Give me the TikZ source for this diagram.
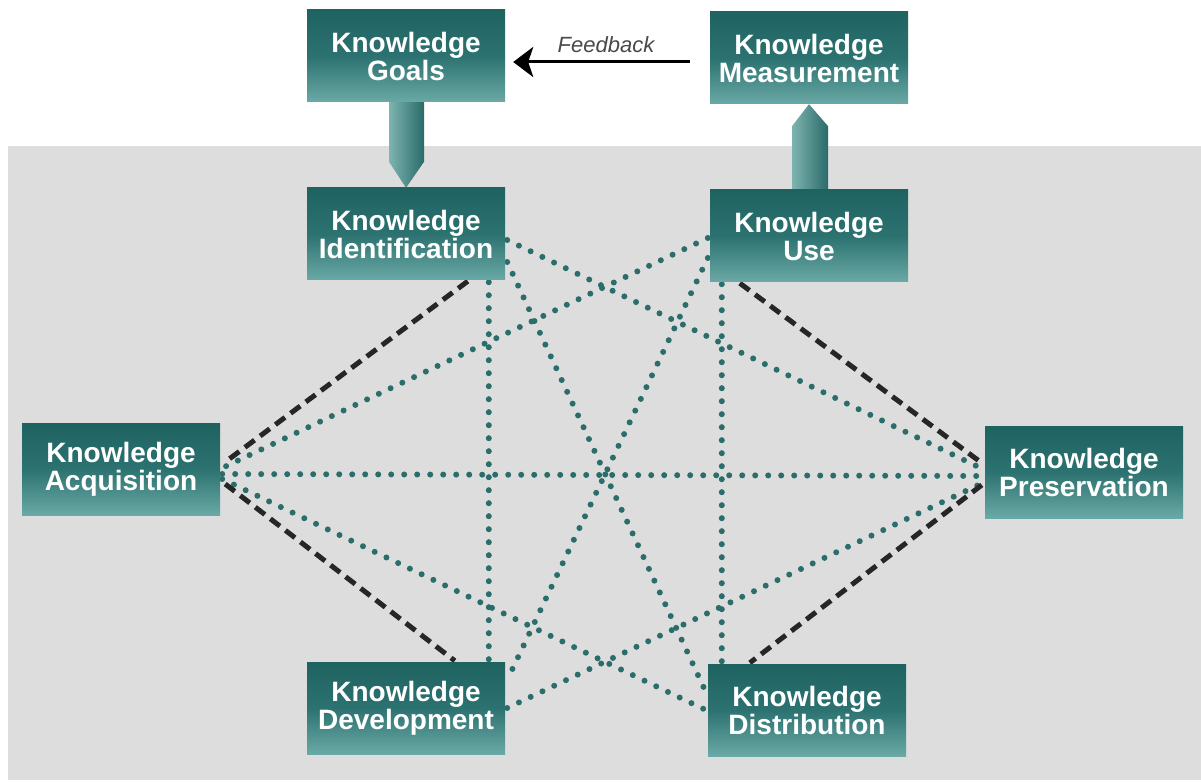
\documentclass[tikz,border=0pt]{standalone}
\usepackage{fontspec}
\setmainfont{Liberation Sans}
\usetikzlibrary{calc,arrows.meta}
\definecolor{tealdark}{HTML}{1F6361}
\definecolor{tealmid}{HTML}{2C7270}
\definecolor{teallight}{HTML}{6AA9A5}
\definecolor{dotteal}{HTML}{2A6D6A}
\definecolor{bggray}{HTML}{DEDDDE}
\definecolor{dashblack}{HTML}{262626}
\definecolor{shaftlight}{HTML}{7DB4B0}
\definecolor{shaftdark}{HTML}{2A6B69}
\definecolor{fbgray}{HTML}{4A4A4A}
\pgfdeclarelayer{back}
\pgfdeclarelayer{mid}
\pgfsetlayers{back,mid,main}
\tikzset{
  kbox/.style={rectangle, minimum width=198pt, minimum height=92pt, inner sep=0pt,
    top color=tealdark, bottom color=teallight, middle color=tealmid,
    text=white, align=center, font=\bfseries\fontsize{28}{28}\selectfont},
  dotline/.style={dotteal, line width=6pt, line cap=round, dash pattern=on 0pt off 13pt},
  dashline/.style={dashblack, line width=5pt, dash pattern=on 12pt off 7pt},
  shaft/.style={left color=shaftlight, right color=shaftdark},
  fbarrow/.style={black, line width=3pt, -{Stealth[length=20pt,width=30pt,inset=5pt]}},
  fblabel/.style={font=\itshape\fontsize{22}{22}\selectfont, text=fbgray}
}
\begin{document}
\begin{tikzpicture}[x=1pt,y=-1pt]
\useasboundingbox (0,0) rectangle (1201,783);
\begin{pgfonlayer}{back}
  \fill[white] (0,0) rectangle (1201,783);
  \fill[bggray] (8,146) rectangle (1201,780);
\end{pgfonlayer}

\node[kbox] (goals) at (406,56) {Knowledge\\Goals};
\node[kbox] (meas)  at (809,58) {Knowledge\\Measurement};
\node[kbox] (ident) at (406,234) {Knowledge\\Identification};
\node[kbox] (use)   at (809,236) {Knowledge\\Use};
\node[kbox] (acq)   at (121,469) {Knowledge\\Acquisition};
\node[kbox] (pres)  at (1084,472) {Knowledge\\Preservation};
\node[kbox] (dev)   at (406,708) {Knowledge\\Development};
\node[kbox] (dist)  at (807,710) {Knowledge\\Distribution};

\node[fblabel] (fb) at (606,45) {Feedback};
\draw[fbarrow] ($(meas.west)+(-20,4)$) -- ($(goals.east)+(8,6)$);

\begin{pgfonlayer}{mid}
  % thick shaded arrows
  \shade[shaft] ($(goals.south)+(-17,0)$) -- ($(goals.south)+(18,0)$) -- ($(ident.north)+(18,-26)$) -- (ident.north) -- ($(ident.north)+(-17,-26)$) -- cycle;
  \shade[shaft] ($(use.north)+(-17,0)$) -- ($(use.north)+(19,0)$) -- ($(meas.south)+(19,22)$) -- (meas.south) -- ($(meas.south)+(-17,22)$) -- cycle;

  % dotted teal connectors
  \draw[dotline] ($(ident.east)+(2,6)$) -- ($(pres.west)+(0,-2)$);
  \draw[dotline] ($(use.west)+(-2,2)$) -- ($(acq.east)+(2,-1)$);
  \draw[dotline] ($(acq.east)+(2,5)$) -- ($(pres.west)+(0,4)$);
  \draw[dotline] ($(acq.east)+(2,10)$) -- ($(dist.west)+(-2,0)$);
  \draw[dotline] ($(dev.east)+(2,0)$) -- ($(pres.west)+(0,10)$);
  \draw[dotline] ($(ident.south west)+(182,2)$) -- ($(dev.north west)+(182,-2)$);
  \draw[dotline] ($(use.south west)+(12,2)$) -- ($(dist.north west)+(14,-2)$);
  \draw[dotline] ($(ident.east)+(2,28)$) -- ($(dist.west)+(-2,-18)$);
  \draw[dotline] ($(use.west)+(-2,22)$) -- ($(dev.east)+(2,-28)$);

  % dashed black connectors
  \draw[dashline] ($(ident.south west)+(161,1)$) -- ($(acq.east)+(5,-7)$);
  \draw[dashline] ($(acq.east)+(5,15)$) -- ($(dev.north west)+(148,-1)$);
  \draw[dashline] ($(use.south west)+(30,1)$) -- ($(pres.west)+(-3,-9)$);
  \draw[dashline] ($(pres.west)+(-3,13)$) -- ($(dist.north west)+(42,-1)$);
\end{pgfonlayer}
\end{tikzpicture}
\end{document}
